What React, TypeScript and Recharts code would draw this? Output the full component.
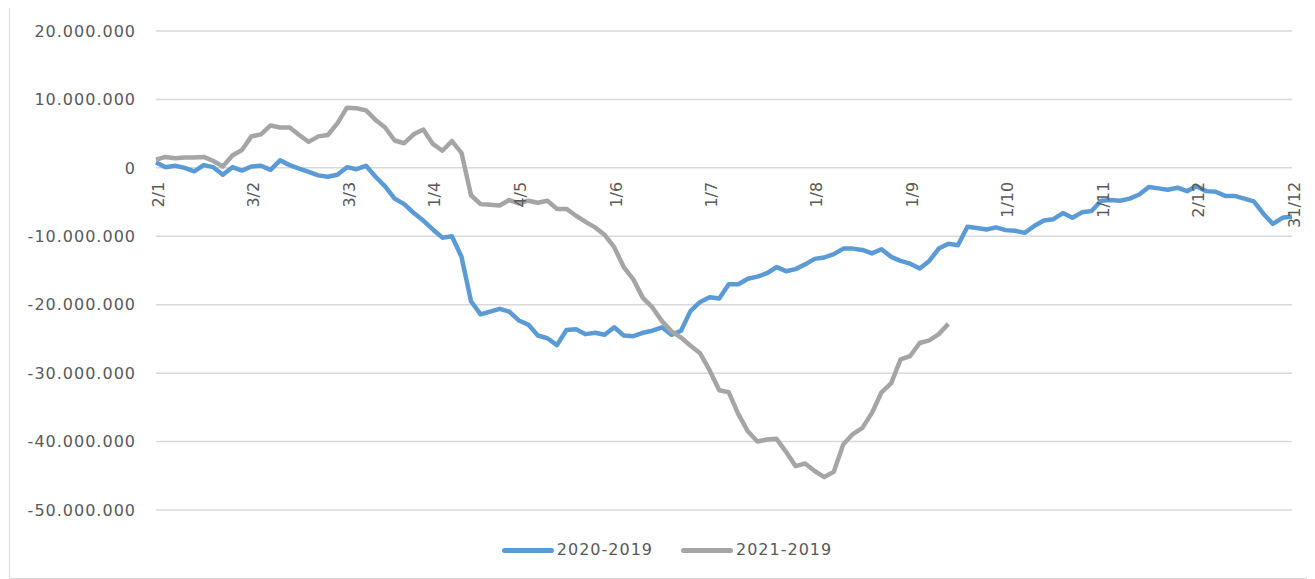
import React from "react";
import { LineChart, Line, XAxis, YAxis, CartesianGrid, Legend } from "recharts";

// one category per ~3 days, dd/m as on the original axis
const dates = [
  "2/1", "5/1", "8/1", "11/1", "14/1", "17/1", "21/1", "24/1", "27/1", "30/1",
  "3/2", "6/2", "9/2", "12/2", "15/2", "18/2", "21/2", "24/2", "26/2", "28/2",
  "3/3", "6/3", "9/3", "12/3", "16/3", "19/3", "22/3", "25/3", "28/3",
  "1/4", "4/4", "8/4", "11/4", "15/4", "18/4", "22/4", "25/4", "29/4",
  "4/5", "7/5", "9/5", "12/5", "15/5", "18/5", "20/5", "23/5", "26/5", "29/5",
  "1/6", "4/6", "7/6", "10/6", "13/6", "16/6", "19/6", "22/6", "25/6", "28/6",
  "1/7", "4/7", "7/7", "9/7", "12/7", "15/7", "18/7", "21/7", "24/7", "26/7", "29/7",
  "1/8", "4/8", "7/8", "10/8", "13/8", "16/8", "19/8", "22/8", "25/8", "28/8",
  "1/9", "4/9", "7/9", "10/9", "13/9", "16/9", "19/9", "22/9", "25/9", "28/9",
  "1/10", "4/10", "7/10", "10/10", "13/10", "16/10", "19/10", "22/10", "25/10", "28/10",
  "1/11", "4/11", "7/11", "10/11", "13/11", "16/11", "19/11", "22/11", "25/11", "28/11",
  "2/12", "5/12", "8/12", "11/12", "14/12", "17/12", "20/12", "23/12", "25/12", "28/12",
  "31/12",
];

const tickLabels = ["2/1", "3/2", "3/3", "1/4", "4/5", "1/6", "1/7", "1/8", "1/9", "1/10", "1/11", "2/12", "31/12"];

// values in millions
const diff2020 = [
  0.8, 0.1, 0.3, 0.0, -0.5, 0.4, 0.1, -1.0, 0.1, -0.4,
  0.2, 0.3, -0.3, 1.1, 0.4, -0.1, -0.6, -1.1, -1.3, -1.0,
  0.1, -0.2, 0.3, -1.3, -2.7, -4.5, -5.3, -6.6, -7.7,
  -9.0, -10.2, -10.0, -13.0, -19.5, -21.4, -21.0, -20.6, -21.0,
  -22.3, -22.9, -24.5, -24.9, -25.9, -23.7, -23.6, -24.3, -24.1, -24.4,
  -23.3, -24.5, -24.6, -24.1, -23.8, -23.3, -24.4, -23.8, -20.9, -19.6,
  -18.9, -19.1, -17.0, -17.0, -16.2, -15.9, -15.4, -14.5, -15.1, -14.8, -14.1,
  -13.3, -13.1, -12.6, -11.8, -11.8, -12.0, -12.5, -11.9, -13.0, -13.6,
  -14.0, -14.7, -13.6, -11.8, -11.1, -11.3, -8.6, -8.8, -9.0, -8.7,
  -9.1, -9.2, -9.5, -8.5, -7.7, -7.5, -6.6, -7.3, -6.5, -6.3,
  -4.8, -4.7, -4.8, -4.5, -3.9, -2.8, -3.0, -3.2, -2.9, -3.4,
  -2.7, -3.4, -3.5, -4.1, -4.1, -4.5, -4.9, -6.7, -8.2, -7.3,
  -7.1,
];

const diff2021 = [
  1.2, 1.6, 1.4, 1.5, 1.5, 1.6, 1.0, 0.2, 1.8, 2.6,
  4.6, 4.9, 6.2, 5.9, 5.9, 4.8, 3.8, 4.6, 4.8, 6.5,
  8.8, 8.7, 8.4, 7.0, 5.9, 4.0, 3.6, 4.9, 5.6,
  3.5, 2.5, 3.9, 2.2, -4.0, -5.3, -5.4, -5.5, -4.7,
  -5.2, -4.8, -5.1, -4.8, -6.0, -6.0, -7.0, -7.9, -8.7, -9.8,
  -11.6, -14.5, -16.3, -19.0, -20.4, -22.4, -23.9, -24.8, -26.0, -27.1,
  -29.6, -32.5, -32.8, -36.0, -38.5, -40.0, -39.7, -39.6, -41.5, -43.6, -43.2,
  -44.3, -45.2, -44.4, -40.4, -38.9, -38.0, -35.8, -32.8, -31.5, -28.0,
  -27.5, -25.6, -25.2, -24.3, -22.8,
];

const seriesNames = ["2020-2019", "2021-2019"];
const seriesColors = ["#5B9BD5", "#A5A5A5"];
const yTicks = [20, 10, 0, -10, -20, -30, -40, -50];

const data = dates.map((date, i) => ({
  date,
  a: diff2020[i],
  b: i < diff2021.length ? diff2021[i] : null,
}));

const FONT = '"DejaVu Sans", sans-serif';
const TEXT = "#595959";
const W = 1300;
const H = 565;
const TOP = 23;
const PLOT_H = 479;
const Y_MAX = 20;
const Y_MIN = -50;
const ZERO_Y = TOP + (PLOT_H * Y_MAX) / (Y_MAX - Y_MIN);

function fmt(v) {
  const n = Math.round(v * 1000000);
  if (n === 0) return "0";
  const s = Math.abs(n).toString().replace(/\B(?=(\d{3})+(?!\d))/g, ".");
  return (n < 0 ? "-" : "") + s;
}

function DateTick({ x, payload }) {
  return (
    <text
      transform={`translate(${x + 2},${ZERO_Y + 14}) rotate(-90)`}
      textAnchor="end"
      dy="0.35em"
      fontFamily={FONT}
      fontSize={16}
      fill={TEXT}
    >
      {payload.value}
    </text>
  );
}

function ChartLegend({ payload }) {
  return (
    <div style={{ display: "flex", justifyContent: "center", gap: 28, paddingLeft: 14, fontFamily: FONT, fontSize: 16, color: TEXT, letterSpacing: 1, lineHeight: "22px" }}>
      {payload.map(p => (
        <span key={p.value} style={{ display: "flex", alignItems: "center" }}>
          <span style={{ display: "inline-block", width: 52, height: 5, borderRadius: 3, background: p.color, marginRight: 3 }} />
          {p.value}
        </span>
      ))}
    </div>
  );
}

export default function App() {
  return (
    <div style={{ position: "relative", width: 1300, height: 570, border: "1px solid #d9d9d9", margin: "-1px 0 0 1px", background: "#fff" }}>
      <LineChart width={W} height={H} data={data} margin={{ top: TOP, right: 18, left: 0, bottom: 40 }}>
        <CartesianGrid vertical={false} stroke="#d9d9d9" strokeWidth={1.5} />
        <XAxis dataKey="date" ticks={tickLabels} interval={0} axisLine={false} tickLine={false} height={1} tick={<DateTick />} />
        <YAxis
          domain={[Y_MIN, Y_MAX]}
          ticks={yTicks}
          width={146}
          axisLine={false}
          tickLine={false}
          tickSize={0}
          tickMargin={20}
          tickFormatter={fmt}
          tick={{ fontFamily: FONT, fontSize: 16, fill: TEXT, letterSpacing: 1 }}
        />
        <Legend content={<ChartLegend />} wrapperStyle={{ top: 531, left: 0, width: W, height: 22 }} />
        <Line dataKey="a" name={seriesNames[0]} stroke={seriesColors[0]} strokeWidth={4.5} dot={false} strokeLinejoin="round" isAnimationActive={false} />
        <Line dataKey="b" name={seriesNames[1]} stroke={seriesColors[1]} strokeWidth={4.5} dot={false} strokeLinejoin="round" isAnimationActive={false} />
      </LineChart>
    </div>
  );
}
